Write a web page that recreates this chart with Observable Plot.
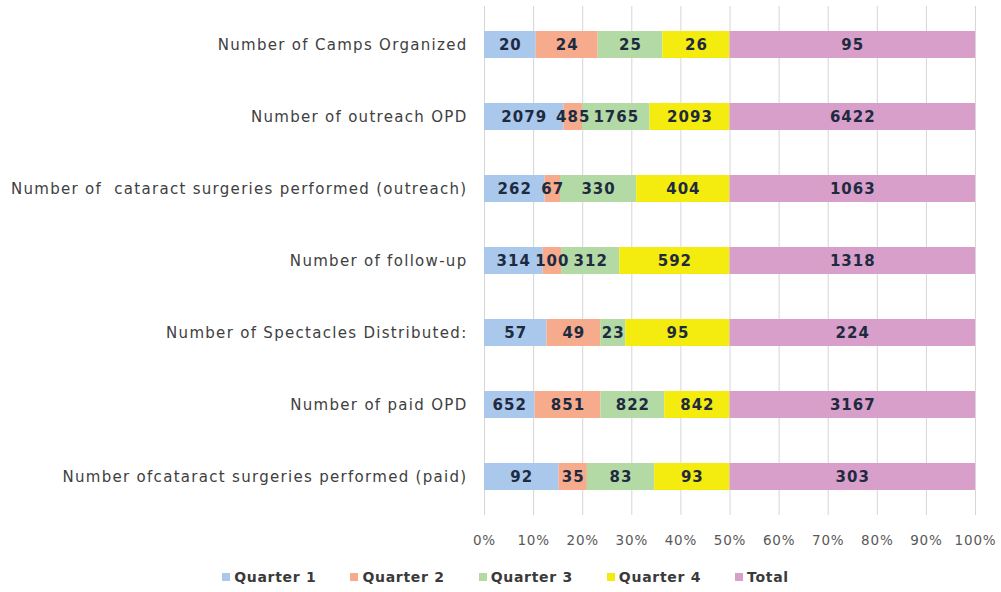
<!DOCTYPE html>
<html>
<head>
<meta charset="utf-8">
<script src="https://cdn.jsdelivr.net/npm/d3@7"></script>
<script src="https://cdn.jsdelivr.net/npm/@observablehq/plot@0.6"></script>
<style>
  body { margin: 0; background: #fff; font-family: "DejaVu Sans", sans-serif; }
  #legend { display: flex; justify-content: center; gap: 34px; margin-top: 17px; margin-left: 10px;
    font-weight: bold; font-size: 14px; color: #3a3a3a; letter-spacing: 0.7px; }
  #legend span.item { display: flex; align-items: center; gap: 4px; }
  #legend span.sw { width: 8px; height: 8px; display: inline-block; }
  .ylab text { letter-spacing: 1.3px; }
  .xlab text { letter-spacing: 0.8px; }
  .vals text { letter-spacing: 1px; }
</style>
</head>
<body>
<div id="chart"></div>
<div id="legend"></div>
<script>
const categories = [
  "Number of Camps Organized",
  "Number of outreach OPD",
  "Number of  cataract surgeries performed (outreach)",
  "Number of follow-up",
  "Number of Spectacles Distributed:",
  "Number of paid OPD",
  "Number ofcataract surgeries performed (paid)"
];
const seriesNames = ["Quarter 1", "Quarter 2", "Quarter 3", "Quarter 4", "Total"];
const q1 = [20, 2079, 262, 314, 57, 652, 92];
const q2 = [24, 485, 67, 100, 49, 851, 35];
const q3 = [25, 1765, 330, 312, 23, 822, 83];
const q4 = [26, 2093, 404, 592, 95, 842, 93];
const total = [95, 6422, 1063, 1318, 224, 3167, 303];
const colors = ["#a9c8ec", "#f5ab8c", "#b3d9a5", "#f5ec0f", "#d89fcb"];
const xTicks = [0, 0.1, 0.2, 0.3, 0.4, 0.5, 0.6, 0.7, 0.8, 0.9, 1];

const seriesValues = [q1, q2, q3, q4, total];
const rows = [];
categories.forEach((c, i) => {
  seriesNames.forEach((s, j) => rows.push({category: c, series: s, value: seriesValues[j][i]}));
});

const chart = Plot.plot({
  width: 1001,
  height: 552,
  marginLeft: 484,
  marginRight: 26,
  marginTop: 6,
  marginBottom: 37,
  style: {fontFamily: "'DejaVu Sans', sans-serif", background: "#fff", overflow: "visible"},
  x: {domain: [0, 1], ticks: xTicks, tickFormat: d3.format(".0%"), label: null},
  y: {domain: categories, paddingInner: 0.62, paddingOuter: 0.31, label: null},
  color: {domain: seriesNames, range: colors},
  marks: [
    Plot.gridX(xTicks, {stroke: "#d6d6d6", strokeOpacity: 1, strokeWidth: 1}),
    Plot.barX(rows, Plot.stackX({x: "value", y: "category", fill: "series", offset: "normalize", order: seriesNames})),
    Plot.text(rows, Plot.stackX({x: "value", y: "category", z: "series", offset: "normalize", order: seriesNames,
      text: d => String(d.value), fill: "#1e2a40", fontWeight: "bold", fontSize: 15, className: "vals"})),
    Plot.axisX({ticks: xTicks, tickFormat: d3.format(".0%"), tickSize: 0, tickPadding: 20, fontSize: 13.5, color: "#595959", label: null, className: "xlab"}),
    Plot.axisY({tickSize: 0, tickPadding: 17, fontSize: 15, color: "#404040", label: null, className: "ylab"})
  ]
});
document.getElementById("chart").append(chart);

const legend = document.getElementById("legend");
seriesNames.forEach((s, j) => {
  const item = document.createElement("span");
  item.className = "item";
  const sw = document.createElement("span");
  sw.className = "sw";
  sw.style.background = colors[j];
  item.append(sw, document.createTextNode(s));
  legend.append(item);
});
</script>
</body>
</html>
